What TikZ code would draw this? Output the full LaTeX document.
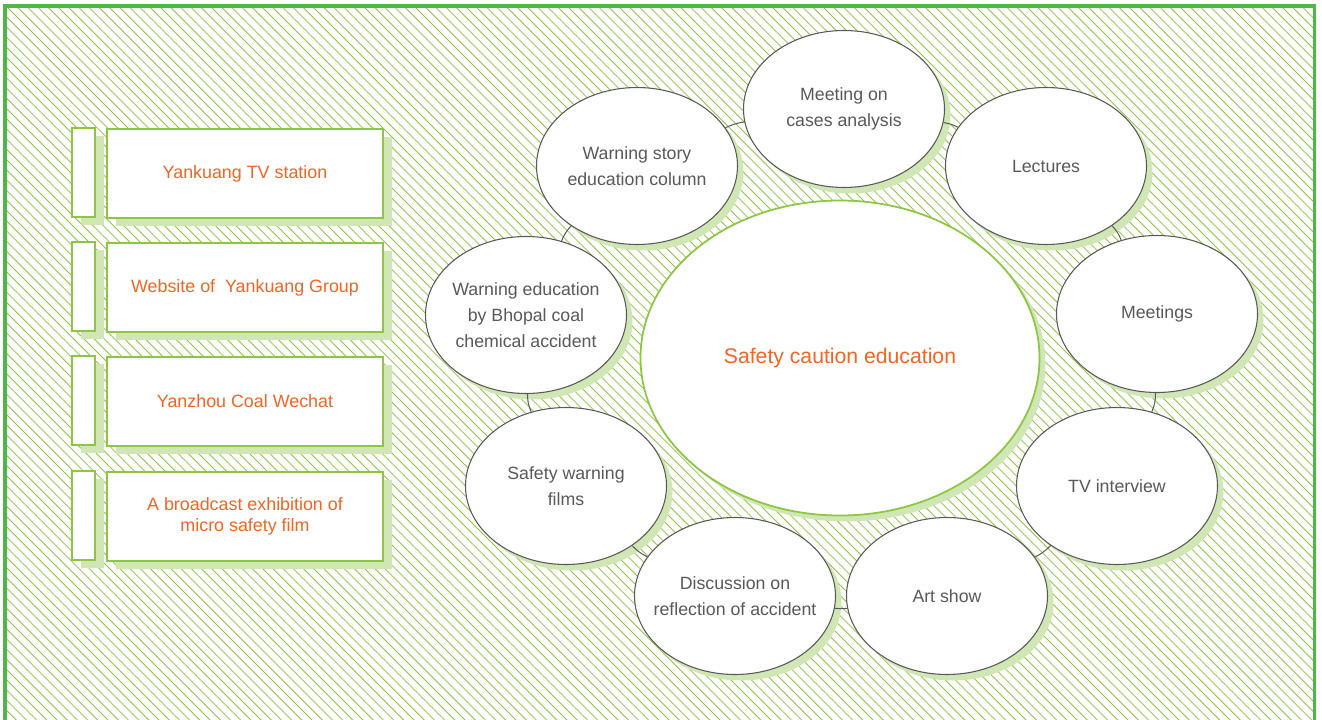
\documentclass[tikz,border=0pt]{standalone}
\usepackage{fontspec}
\setmainfont{Liberation Sans}
\usetikzlibrary{shapes.geometric,shadows,positioning}

\definecolor{framegreen}{RGB}{77,184,72}
\definecolor{hatchgreen}{RGB}{141,198,63}
\definecolor{shadegreen}{RGB}{208,230,180}
\definecolor{ringgray}{RGB}{89,89,89}
\definecolor{textorange}{RGB}{242,101,34}

\begin{document}
\begin{tikzpicture}[x=0.75pt, y=0.75pt,
  tab/.style={rectangle, draw=hatchgreen, line width=1.5pt, fill=white,
              minimum width=22.5*0.75pt, minimum height=89*0.75pt, inner sep=0pt,
              drop shadow={shadow xshift=6.75pt, shadow yshift=-6pt, fill=shadegreen, opacity=1}},
  channel/.style={tab, minimum width=276*0.75pt, align=center, text=textorange,
              font=\fontsize{13.4}{15.75}\selectfont},
  item/.style={ellipse, draw=ringgray, line width=0.8pt, fill=white,
              minimum width=201*0.75pt, minimum height=157*0.75pt, inner sep=0pt,
              drop shadow={shadow xshift=4.5pt, shadow yshift=-4.5pt, fill=shadegreen, opacity=1}},
  itemtext/.style={align=center, text=ringgray, font=\fontsize{13.3}{19.5}\selectfont},
  hub/.style={item, draw=hatchgreen, line width=1.3pt, minimum width=399*0.75pt,
              minimum height=315*0.75pt, text=textorange, font=\fontsize{15.9}{19}\selectfont},
  ring/.style={draw=ringgray, line width=0.75pt}
]
  \useasboundingbox (0,0) rectangle (1322,719);

  % hatched background and frame
  \begin{scope}
    \clip (5,-10) rectangle (1314.5,712.5);
    \foreach \i in {-72,...,130}
      \draw[hatchgreen, line width=0.6pt] (\i*10.2,719) -- ++(730,-730);
  \end{scope}
  \draw[framegreen, line width=2.8pt] (4.7,-10) -- (4.7,712.7) -- (1314.4,712.7) -- (1314.4,-10);

  % media channels
  \node[tab]     (tab1)  at (83.25,546.5) {};
  \node[channel] (chan1) at (245,545.5)   {Yankuang TV station};
  \node[tab]     (tab2)  at (83.25,432.5) {};
  \node[channel] (chan2) at (245,431.5)   {Website of\ \ Yankuang Group};
  \node[tab]     (tab3)  at (83.25,318.5) {};
  \node[channel] (chan3) at (245,317.5)   {Yanzhou Coal Wechat};
  \node[tab]     (tab4)  at (83.25,203.5) {};
  \node[channel] (chan4) at (245,202.5)   {A broadcast exhibition of\\micro safety film};

  % central topic and activities
  \node[hub] (hub) at (840,361) {Safety caution education};
  \node[item, label={[itemtext]center:Meeting on\\cases analysis}]                    (cases)      at (844,610)  {};
  \node[item, label={[itemtext]center:Lectures}]                                      (lectures)   at (1046,553) {};
  \node[item, label={[itemtext]center:Meetings}]                                      (meetings)   at (1157,405) {};
  \node[item, label={[itemtext]center:TV interview}]                                  (interview)  at (1117,233) {};
  \node[item, label={[itemtext]center:Art show}]                                      (artshow)    at (947,123)  {};
  \node[item, label={[itemtext]center:Discussion on\\reflection of accident}]         (discussion) at (735,123)  {};
  \node[item, label={[itemtext]center:Safety warning\\films}]                         (films)      at (566,233)  {};
  \node[item, label={[itemtext]center:Warning education\\by Bhopal coal\\chemical accident}] (bhopal) at (526,404) {};
  \node[item, label={[itemtext]center:Warning story\\education column}]               (story)      at (637,553)  {};

  % ring connectors
  \draw[ring] (story)      to[bend left=8]  (cases);
  \draw[ring] (cases)      to[bend left=8]  (lectures);
  \draw[ring] (lectures)   to[bend left=11] (meetings);
  \draw[ring] (meetings)   to[bend left=12] (interview);
  \draw[ring] (interview)  to[bend left=9]  (artshow);
  \draw[ring] (artshow)    to[bend left=7]  (discussion);
  \draw[ring] (discussion) to[bend left=9]  (films);
  \draw[ring] (films)      to[bend left=12] (bhopal);
  \draw[ring] (bhopal)     to[bend left=11] (story);
\end{tikzpicture}
\end{document}
